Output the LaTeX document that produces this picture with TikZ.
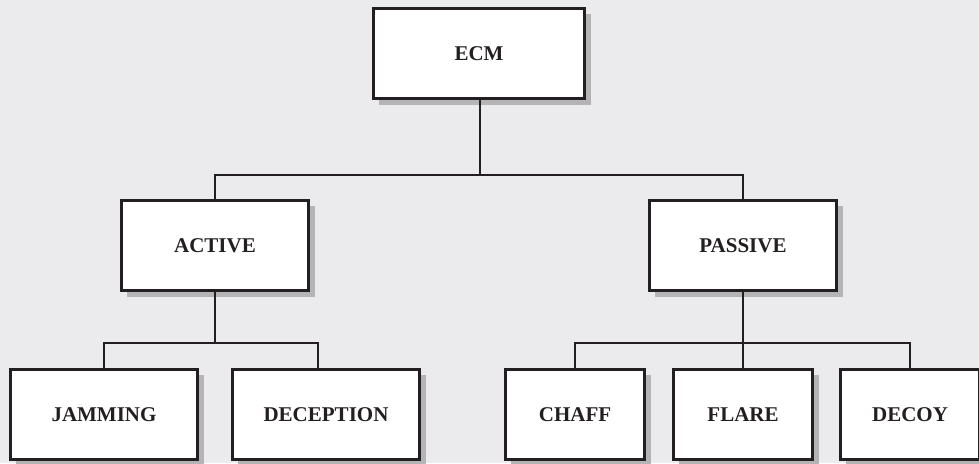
\documentclass[tikz,border=0pt]{standalone}
\usepackage{fontspec}
\setmainfont{Liberation Serif}
\usetikzlibrary{shadows}
\definecolor{bgcol}{HTML}{EBEBED}
\definecolor{shcol}{HTML}{B4B4B7}
\definecolor{inkcol}{HTML}{231F20}
\begin{document}
\begin{tikzpicture}[x=1pt,y=-1pt,
  box/.style={draw=inkcol, line width=2.8pt, fill=white, minimum height=90.2pt,
    inner sep=0pt, font=\fontsize{21}{24}\selectfont\bfseries, text=inkcol,
    general shadow={fill=shcol, shadow xshift=6pt, shadow yshift=-6pt}},
  widebox/.style={box, minimum width=187.2pt},
  narrowbox/.style={box, minimum width=139.2pt},
  conn/.style={draw=inkcol, line width=2.7pt}]
\fill[bgcol] (0,0) rectangle (979,463);
\useasboundingbox (0,0) rectangle (979,463);
% nodes
\node[box, minimum width=211.2pt] (ecm) at (479,53.5) {ECM};
\node[widebox] (act) at (215,245.5) {ACTIVE};
\node[widebox] (pas) at (743,245.5) {PASSIVE};
\node[widebox] (jam) at (104,414.5) {JAMMING};
\node[widebox] (dec) at (326,414.5) {DECEPTION};
\node[narrowbox] (cha) at (575,414.5) {CHAFF};
\node[narrowbox] (fla) at (743,414.5) {FLARE};
\node[narrowbox] (dcy) at (910,414.5) {DECOY};
% bus points
\coordinate (b1) at (480,175);
\coordinate (b2) at (215,343);
\coordinate (b3) at (743,343);
% connectors
\draw[conn] (ecm.south -| b1) -- (b1);
\draw[conn] (act.north) |- (b1) -| (pas.north);
\draw[conn] (act.south) -- (b2);
\draw[conn] (jam.north) |- (b2) -| ([xshift=-8pt]dec.north);
\draw[conn] (pas.south) -- (fla.north);
\draw[conn] (cha.north) |- (b3) -| (dcy.north);
\end{tikzpicture}
\end{document}
